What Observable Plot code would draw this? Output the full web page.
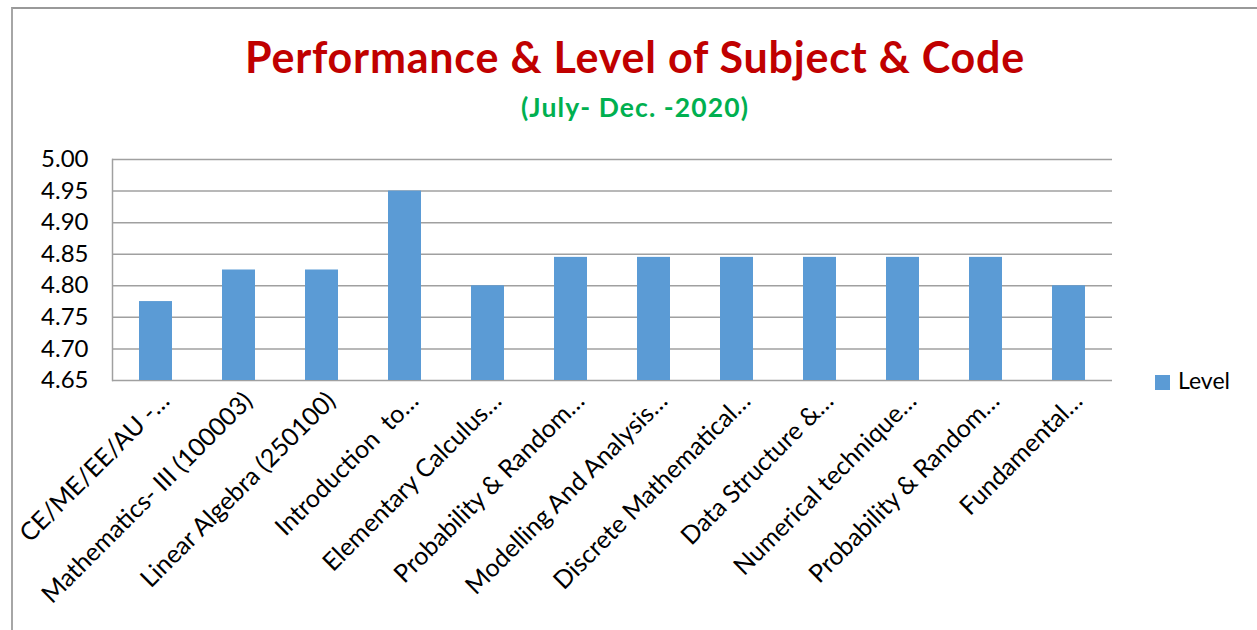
<!DOCTYPE html>
<html>
<head>
<meta charset="utf-8">
<script src="https://cdn.jsdelivr.net/npm/d3@7"></script>
<script src="https://cdn.jsdelivr.net/npm/@observablehq/plot@0.6"></script>
<style>
  html, body { margin: 0; padding: 0; background: #fff; }
  #wrap { position: relative; width: 1257px; height: 630px; overflow: hidden; font-family: Lato, "Open Sans", sans-serif; }
  #border { position: absolute; left: 11px; top: 7px; right: -10px; bottom: -10px; border-left: 2px solid #a6a6a6; border-top: 2px solid #999; }
  .head { position: absolute; left: 0; width: 1270px; text-align: center; font-weight: bold; white-space: nowrap; }
  #title { top: 35px; font-size: 43px; line-height: 43px; color: #C00000; }
  #subtitle { top: 94px; font-size: 26.5px; line-height: 26px; color: #00B050; }
  #chart { position: absolute; left: 0; top: 150px; }
  #legend { position: absolute; left: 1155px; top: 369px; font-size: 23px; line-height: 23px; color: #000; white-space: nowrap; }
  #legend .sw { display: inline-block; width: 15px; height: 15px; background: #5B9BD5; margin-right: 8px; vertical-align: -1px; }
</style>
</head>
<body>
<div id="wrap">
  <div id="border"></div>
  <div id="title" class="head"><span></span></div>
  <div id="subtitle" class="head"><span></span></div>
  <div id="chart"></div>
  <div id="legend"></div>
</div>
<script>
const titleText = "Performance & Level of Subject & Code";
const subtitleText = "(July- Dec. -2020)";
const seriesName = "Level";
const categories = [
  "CE/ME/EE/AU -…",
  "Mathematics- III (100003)",
  "Linear Algebra (250100)",
  "Introduction  to…",
  "Elementary Calculus…",
  "Probability & Random…",
  "Modelling And Analysis…",
  "Discrete Mathematical…",
  "Data Structure &…",
  "Numerical technique…",
  "Probability & Random…",
  "Fundamental…"
];
const levels = [4.775, 4.825, 4.825, 4.95, 4.80, 4.845, 4.845, 4.845, 4.845, 4.845, 4.845, 4.80];
const yTicks = [4.65, 4.70, 4.75, 4.80, 4.85, 4.90, 4.95, 5.00];
const yMin = 4.65, yMax = 5.00;

function fitText(id, text, target) {
  const span = document.querySelector("#" + id + " span");
  span.textContent = text;
  const w = span.getBoundingClientRect().width;
  const ls = (target - w) / text.length;
  span.style.letterSpacing = ls.toFixed(2) + "px";
}
fitText("title", titleText, 780);
fitText("subtitle", subtitleText, 228);
document.getElementById("legend").innerHTML = '<span class="sw"></span>' + seriesName;

const data = categories.map((c, i) => ({i, label: c, v: levels[i]}));

const chart = Plot.plot({
  width: 1257,
  height: 480,
  marginTop: 9,
  marginBottom: 250,
  marginLeft: 112,
  marginRight: 145,
  style: {fontFamily: "Lato, 'Open Sans', sans-serif", fontSize: "24px", color: "#000", background: "transparent", overflow: "visible"},
  x: {type: "band", domain: data.map(d => d.i), paddingInner: 0.6, paddingOuter: 0.3, axis: null},
  y: {domain: [yMin, yMax], axis: null},
  marks: [
    Plot.gridY(yTicks, {stroke: "#a0a0a0", strokeOpacity: 1, strokeWidth: 1.5}),
    Plot.frame({anchor: "left", stroke: "#a0a0a0", strokeWidth: 1.5}),
    Plot.axisY(yTicks, {label: null, tickSize: 0, tickPadding: 24, tickFormat: d => d.toFixed(2), fontSize: 24, fill: "#000"}),
    Plot.barY(data, {x: "i", y1: () => yMin, y2: "v", fill: "#5B9BD5"}),
    Plot.text(data, {x: "i", text: "label", frameAnchor: "bottom", rotate: -45, textAnchor: "end", lineAnchor: "bottom", dx: 15, dy: 22, fontSize: 25, fill: "#000"})
  ]
});
document.getElementById("chart").appendChild(chart);
</script>
</body>
</html>
